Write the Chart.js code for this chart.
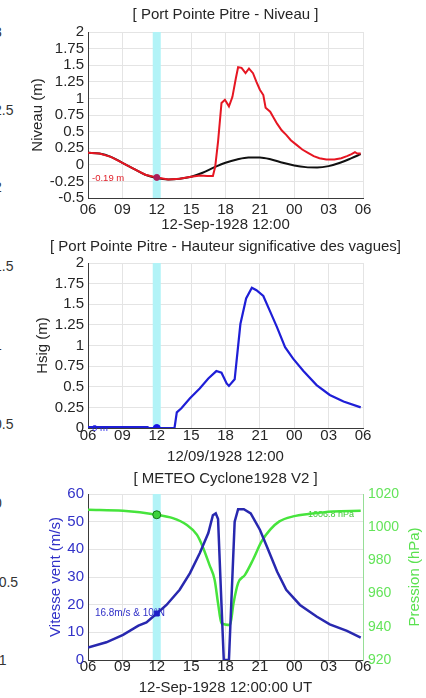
<!DOCTYPE html>
<html>
<head>
<meta charset="utf-8">
<title>Port Pointe Pitre - 12-Sep-1928</title>
<script src="https://cdn.jsdelivr.net/npm/chart.js@4.4.1/dist/chart.umd.min.js"></script>
<style>
  body { margin: 0; background: #fff; }
  #page { position: relative; width: 426px; height: 698px; overflow: hidden; background: #fff; }
  canvas { position: absolute; left: 0; }
  .edge { position: absolute; left: -6px; font: 14px "Liberation Sans", Arial, sans-serif; color: #333; line-height: 16px; margin-top: -8px; }
</style>
</head>
<body>
<div id="page">
  <!-- cut-off axis of the neighbouring figure -->
  <div class="edge" style="top:32px">3</div>
  <div class="edge" style="top:110px">2.5</div>
  <div class="edge" style="top:187px">2</div>
  <div class="edge" style="top:266px">1.5</div>
  <div class="edge" style="top:345px">1</div>
  <div class="edge" style="top:424px">0.5</div>
  <div class="edge" style="top:503px">0</div>
  <div class="edge" style="top:582px">-0.5</div>
  <div class="edge" style="top:660px">-1</div>

  <canvas id="niveau" width="426" height="236" style="top:0"></canvas>
  <canvas id="vagues" width="426" height="238" style="top:232px"></canvas>
  <canvas id="meteo" width="426" height="236" style="top:462px"></canvas>
</div>
<script>
// hours counted from 12-Sep-1928 06:00 UT
const hourLabels = ["06", "09", "12", "15", "18", "21", "00", "03", "06"];
const nowHour = 6; // 12:00

// tide only (black) and total level (red), metres
const tideHours = [0, 1, 2, 3, 4, 5, 6, 7, 8, 9, 10, 11, 12, 13, 14, 15, 16, 17, 18, 19, 20, 21, 22, 23, 23.8];
const tideLevel = [0.18, 0.17, 0.12, 0.03, -0.06, -0.15, -0.2, -0.22, -0.21, -0.18, -0.12, -0.04, 0.03, 0.08, 0.11, 0.11, 0.08, 0.03, -0.01, -0.035, -0.04, -0.02, 0.03, 0.1, 0.16];
const levelHours = [0, 1, 2, 3, 4, 5, 6, 7, 8, 9, 9.8, 10.4, 10.9, 11.1, 11.35, 11.65, 11.95, 12.3, 12.6, 12.9, 13.1, 13.4, 13.75, 14.05, 14.4, 14.7, 15.0, 15.3, 15.5, 15.9, 16.2, 16.5, 16.9, 17.3, 17.7, 18.2, 18.7, 19.2, 19.7, 20.2, 20.8, 21.5, 22.1, 22.6, 23.0, 23.3, 23.5, 23.8];
const levelValues = [0.18, 0.17, 0.12, 0.03, -0.06, -0.15, -0.19, -0.22, -0.21, -0.18, -0.16, -0.17, -0.17, -0.03, 0.35, 0.93, 0.98, 0.88, 1.02, 1.3, 1.47, 1.46, 1.38, 1.45, 1.38, 1.25, 1.13, 1.05, 0.86, 0.8, 0.71, 0.62, 0.52, 0.45, 0.37, 0.3, 0.23, 0.18, 0.13, 0.1, 0.08, 0.08, 0.1, 0.13, 0.16, 0.19, 0.17, 0.17];
const levelNow = -0.19;

// significant wave height, metres
const hsigHours = [0, 5.2, 5.3, 7.55, 7.75, 8.15, 8.9, 9.75, 10.5, 11.2, 11.65, 12.1, 12.3, 12.8, 13.3, 13.8, 14.3, 14.7, 15.3, 15.9, 16.5, 17.2, 17.9, 18.8, 19.95, 21.1, 22.3, 23.8];
const hsigValues = [0.01, 0.01, 0, 0, 0.19, 0.24, 0.36, 0.48, 0.6, 0.69, 0.67, 0.54, 0.51, 0.59, 1.26, 1.57, 1.7, 1.67, 1.6, 1.41, 1.22, 0.98, 0.84, 0.69, 0.52, 0.4, 0.32, 0.25];
const hsigNow = 0;

// wind speed (m/s) and pressure (hPa)
const windHours = [0, 1.6, 3.06, 4.4, 5.1, 6, 6.85, 8, 8.9, 9.75, 10.5, 10.9, 11.15, 11.35, 11.6, 11.85, 12.3, 12.6, 12.8, 13.1, 13.6, 14.2, 15.0, 15.6, 16.5, 17.3, 18.5, 19.95, 21.1, 22.6, 23.8];
const windSpeed = [4.5, 6.4, 9.1, 12.4, 13.6, 16.8, 19.9, 25.4, 31.4, 38.6, 45.9, 52.3, 53, 51, 25, 0, 0, 30, 50, 54.5, 54.5, 53, 47.1, 41.1, 32, 25.4, 19.9, 15.7, 12.9, 10.5, 8.1];
const windNow = 16.8;
const pressHours = [0, 3.06, 6, 7.4, 8.6, 9.5, 10.0, 10.6, 11.05, 11.35, 11.65, 12.4, 12.7, 13.1, 13.7, 14.4, 15.15, 15.9, 16.7, 17.9, 19.4, 21.4, 23.8];
const pressValues = [1010.5, 1009.9, 1007.5, 1005.5, 1001.5, 995.5, 988.4, 977.3, 968.3, 954.2, 942.1, 941.1, 954.2, 966.3, 971.3, 980.4, 991.4, 998.5, 1003.5, 1006.5, 1008.1, 1009.5, 1009.9];
const pressNow = 1007.5;

const FONT = '"Liberation Sans", Arial, sans-serif';
Chart.defaults.font.family = FONT;
Chart.defaults.font.size = 15;
Chart.defaults.color = "#262626";
Chart.defaults.animation = false;

const BLUE3 = "rgb(40, 40, 175)";
const GREEN = "rgb(70, 228, 60)";
const LEFT_PAD = 25; // keeps the panel titles centred over the plot

const pts = (xs, ys) => xs.map((x, i) => ({ x: x, y: ys[i] }));

// cyan band at 12:00 plus the small value notes
const nowBand = {
  id: "nowBand",
  beforeDatasetsDraw(chart, args, opts) {
    const { ctx, chartArea, scales } = chart;
    const x0 = scales.x.getPixelForValue(nowHour - 0.35);
    const x1 = scales.x.getPixelForValue(nowHour + 0.35);
    ctx.save();
    ctx.fillStyle = "rgb(178, 243, 247)";
    ctx.fillRect(x0, chartArea.top, x1 - x0, chartArea.bottom - chartArea.top);
    (opts.notes || []).forEach((n) => {
      const yScale = scales[n.axis || "y"];
      ctx.font = n.size + "px " + FONT;
      ctx.fillStyle = n.color;
      ctx.textAlign = "left";
      ctx.textBaseline = "middle";
      ctx.fillText(n.text, scales.x.getPixelForValue(n.x), yScale.getPixelForValue(n.y));
    });
    ctx.restore();
  },
};

// right y title, read bottom-to-top like the left one
const rightTitle = {
  id: "rightTitle",
  afterDraw(chart, args, opts) {
    if (!opts.text) return;
    const { ctx, chartArea } = chart;
    ctx.save();
    ctx.translate(opts.x, (chartArea.top + chartArea.bottom) / 2);
    ctx.rotate(-Math.PI / 2);
    ctx.font = "15px " + FONT;
    ctx.fillStyle = opts.color;
    ctx.textAlign = "center";
    ctx.textBaseline = "middle";
    ctx.fillText(opts.text, 0, 0);
    ctx.restore();
  },
};

function timeAxis(title, tickPad, titlePad, height) {
  return {
    type: "linear",
    min: 0,
    max: 24,
    ticks: { stepSize: 3, padding: tickPad, maxRotation: 0, autoSkip: false, callback: (v) => hourLabels[v / 3] },
    grid: { color: "#e4e4e4", drawTicks: false },
    border: { color: "#3a3a3a" },
    title: { display: true, text: title, padding: { top: 0, bottom: titlePad } },
    afterFit: (s) => { s.height = height; },
  };
}

function valueAxis(min, max, step, title, titleX, color) {
  return {
    min: min,
    max: max,
    ticks: { stepSize: step, maxTicksLimit: 20, autoSkip: false, padding: 4, color: color, font: { size: 15, lineHeight: 0.8 }, callback: (v) => String(+v.toFixed(2)) },
    grid: { color: "#e4e4e4", drawTicks: false },
    border: { color: "#3a3a3a" },
    title: { display: true, text: title, color: color, padding: { top: titleX - 9 - LEFT_PAD, bottom: 0 } },
    afterFit: (s) => { s.width = 88 - LEFT_PAD; },
  };
}

// empty right box so the plot ends where the reference does
const spacerAxis = {
  position: "right",
  ticks: { display: false },
  grid: { display: false },
  border: { display: false },
  afterFit: (s) => { s.width = 63; },
};

function panelTitle(text, top, bottom) {
  return { display: true, text: text, font: { size: 15, weight: "normal" }, color: "#262626", padding: { top: top, bottom: bottom } };
}

const niveau = new Chart(document.getElementById("niveau"), {
  type: "line",
  data: {
    datasets: [
      { data: [{ x: nowHour, y: levelNow }], showLine: false, pointRadius: 3, pointBackgroundColor: "rgb(170, 30, 90)", pointBorderColor: "rgb(170, 30, 90)", order: -1 },
      { data: pts(levelHours, levelValues), borderColor: "rgb(230, 22, 34)", borderWidth: 2, pointRadius: 0, tension: 0 },
      { data: pts(tideHours, tideLevel), borderColor: "#111", borderWidth: 2, pointRadius: 0, cubicInterpolationMode: "monotone", order: 1 },
    ],
  },
  options: {
    responsive: false,
    layout: { padding: { left: LEFT_PAD } },
    scales: {
      x: timeAxis("12-Sep-1928 12:00", 3, 2, 38),
      y: valueAxis(-0.5, 2, 0.25, "Niveau (m)", 38, "#262626"),
      yr: spacerAxis,
    },
    plugins: {
      legend: { display: false },
      tooltip: { enabled: false },
      title: panelTitle("[ Port Pointe Pitre - Niveau ]", 6, 8),
      nowBand: { notes: [{ text: "-0.19 m", x: 0.35, y: -0.2, color: "rgb(225, 30, 40)", size: 9.5 }] },
    },
  },
  plugins: [nowBand],
});

const vagues = new Chart(document.getElementById("vagues"), {
  type: "line",
  data: {
    datasets: [
      { data: [{ x: nowHour, y: hsigNow }], showLine: false, pointRadius: 3.5, pointBackgroundColor: "rgb(20, 20, 230)", pointBorderColor: "rgb(20, 20, 230)", order: -1 },
      { data: pts(hsigHours, hsigValues), borderColor: "rgb(30, 30, 215)", borderWidth: 2.2, pointRadius: 0, tension: 0 },
    ],
  },
  options: {
    responsive: false,
    layout: { padding: { left: LEFT_PAD } },
    scales: {
      x: timeAxis("12/09/1928 12:00", -1, 4, 42),
      y: valueAxis(0, 2, 0.25, "Hsig (m)", 43, "#262626"),
      yr: spacerAxis,
    },
    plugins: {
      legend: { display: false },
      tooltip: { enabled: false },
      title: panelTitle("[ Port Pointe Pitre - Hauteur significative des vagues]", 6, 7),
      nowBand: { notes: [{ text: "0 m", x: 0.35, y: 0, color: "rgb(40, 40, 230)", size: 9.5 }] },
    },
  },
  plugins: [nowBand],
});

const meteo = new Chart(document.getElementById("meteo"), {
  type: "line",
  data: {
    datasets: [
      { data: [{ x: nowHour, y: windNow }], showLine: false, pointStyle: "rect", pointRadius: 3.5, pointBackgroundColor: "rgb(30, 30, 200)", pointBorderColor: "rgb(30, 30, 200)", order: -2 },
      { data: [{ x: nowHour, y: pressNow }], yAxisID: "y2", showLine: false, pointRadius: 4, pointBackgroundColor: "rgb(60, 210, 60)", pointBorderColor: "rgb(20, 120, 20)", pointBorderWidth: 1, order: -1 },
      { data: pts(windHours, windSpeed), borderColor: BLUE3, borderWidth: 2.5, pointRadius: 0, tension: 0 },
      { data: pts(pressHours, pressValues), yAxisID: "y2", borderColor: GREEN, borderWidth: 2.5, pointRadius: 0, cubicInterpolationMode: "monotone", order: 1 },
    ],
  },
  options: {
    responsive: false,
    layout: { padding: { left: LEFT_PAD } },
    scales: {
      x: timeAxis("12-Sep-1928 12:00:00 UT", -2, 1, 38),
      y: valueAxis(0, 60, 10, "Vitesse vent (m/s)", 56, "rgb(50, 50, 200)"),
      y2: {
        position: "right",
        min: 920,
        max: 1020,
        ticks: { stepSize: 20, padding: 5, color: "rgb(100, 228, 90)", font: { size: 14 }, callback: (v) => String(v) },
        grid: { drawOnChartArea: false, drawTicks: false },
        border: { color: "rgb(150, 222, 150)" },
        afterFit: (s) => { s.width = 63; },
      },
    },
    plugins: {
      legend: { display: false },
      tooltip: { enabled: false },
      title: panelTitle("[ METEO Cyclone1928 V2 ]", 7.5, 6.5),
      rightTitle: { text: "Pression (hPa)", x: 415, color: "rgb(90, 225, 80)" },
      nowBand: {
        notes: [
          { text: "16.8m/s & 10°N", x: 0.6, y: windNow, color: "rgb(50, 50, 200)", size: 10 },
          { text: "1006.8 hPa", x: 19.2, y: pressNow, axis: "y2", color: "rgb(60, 200, 50)", size: 9 },
        ],
      },
    },
  },
  plugins: [nowBand, rightTitle],
});
</script>
</body>
</html>
